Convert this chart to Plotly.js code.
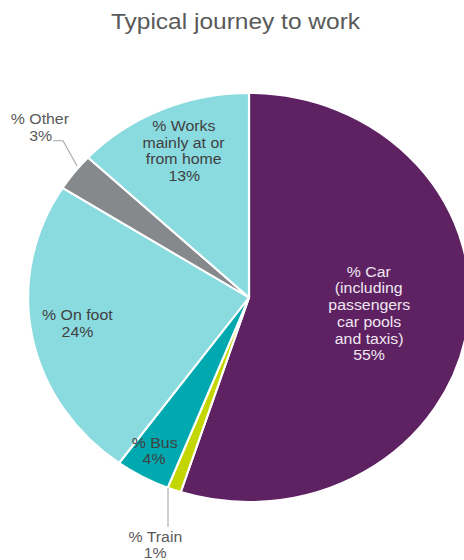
<!DOCTYPE html>
<html><head><meta charset="utf-8">
<script src="https://cdn.plot.ly/plotly-3.0.1.min.js"></script>
<style>
html,body{margin:0;padding:0;background:#fff;overflow:hidden;width:464px;height:560px}
#chart{width:500px;height:560px;transform:scaleX(1.08);transform-origin:0 0;}
</style></head><body><div id="chart"></div>
<script>
// ---- data ----
const categories = ['% Car (including passengers car pools and taxis)', '% Train', '% Bus', '% On foot', '% Other', '% Works mainly at or from home'];
const values = [55, 1, 4, 24, 3, 13];
const sliceColors = ['#5E2162', '#C4D600', '#00A9B0', '#8ADBE0', '#85898B', '#8ADBE0'];
const labelLines = [
  ['% Car', '(including', 'passengers', 'car pools', 'and taxis)'],
  ['% Train'],
  ['% Bus'],
  ['% On foot'],
  ['% Other'],
  ['% Works', 'mainly at or', 'from home']
];
const titleText = 'Typical journey to work';

// ---- layout helpers ----
const S = 1.08, W = 500, H = 560;
const px = x => (x / S) / W;
const py = y => 1 - y / H;
const labelPos = [[369, 271.7], [155.5, 536.7], [154, 442.7], [77, 315], [40, 119], [184, 126]];
const labelColor = ['#EFE7F1', '#595959', '#404040', '#404040', '#595959', '#404040'];
const step = 16.7;

const annotations = [];
labelLines.forEach((lines, i) => {
  const all = lines.concat([values[i] + '%']);
  all.forEach((t, j) => {
    annotations.push({
      text: t, xref: 'paper', yref: 'paper', showarrow: false,
      x: px(labelPos[i][0]), y: py(labelPos[i][1] + j * step),
      xanchor: 'center', yanchor: 'middle',
      font: {family: 'Arial, Liberation Sans, sans-serif', size: 14.7, color: labelColor[i]}
    });
  });
});

const cx = 249, cy = 297.5, r = 204.5;
const trace = {
  type: 'pie', values: values, labels: categories, sort: false, direction: 'clockwise', rotation: 0,
  marker: {colors: sliceColors, line: {color: '#FFFFFF', width: 2}},
  textinfo: 'none', hoverinfo: 'label+percent',
  domain: {x: [px(cx - r * S), px(cx + r * S)], y: [py(cy + r), py(cy - r)]}
};

const lineStyle = {color: '#A6A6A6', width: 1};
const shapes = [
  {type: 'path', xref: 'paper', yref: 'paper', line: lineStyle,
   path: `M ${px(53)} ${py(140.7)} L ${px(63)} ${py(140.7)} L ${px(77)} ${py(166)}`},
  {type: 'line', xref: 'paper', yref: 'paper', line: lineStyle,
   x0: px(168), y0: py(488), x1: px(168), y1: py(527)}
];

const layout = {
  width: W, height: H, margin: {l: 0, r: 0, t: 0, b: 0},
  paper_bgcolor: '#FFFFFF', showlegend: false,
  title: {text: titleText, x: px(235.5), xanchor: 'center', xref: 'paper', y: py(21), yanchor: 'middle', yref: 'container',
          font: {family: 'Arial, Liberation Sans, sans-serif', size: 22.7, color: '#595959'}},
  annotations: annotations, shapes: shapes
};
Plotly.newPlot('chart', [trace], layout, {displayModeBar: false, staticPlot: true});
</script></body></html>
